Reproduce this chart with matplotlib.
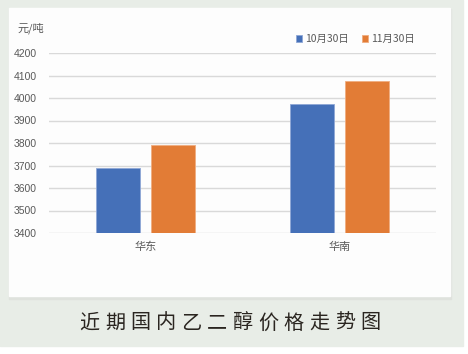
import matplotlib
matplotlib.use("Agg")
import matplotlib.pyplot as plt
from matplotlib.patches import Rectangle
import numpy as np

plt.rcParams['font.family'] = ['Noto Sans CJK SC', 'DejaVu Sans']

categories = ["华东", "华南"]
series_names = ["10月30日", "11月30日"]
oct30 = [3690, 3975]
nov30 = [3790, 4075]
yticks = [3400, 3500, 3600, 3700, 3800, 3900, 4000, 4100, 4200]
unit_label = "元/吨"
title = "近期国内乙二醇价格走势图"

W, H = 468, 354
fig = plt.figure(figsize=(W / 100, H / 100), dpi=100)
fig.patch.set_facecolor("white")

def px(x0, y0, x1, y1):
    return (x0 / W, 1 - y1 / H, (x1 - x0) / W, (y1 - y0) / H)

# grey outer background
l, b, w, h = px(0, 0, 463, 346)
fig.add_artist(Rectangle((l, b), w, h, transform=fig.transFigure, color="#e8ede7", zorder=0))
# shadow under panel
l, b, w, h = px(9, 9, 451, 299)
fig.add_artist(Rectangle((l, b), w, h, transform=fig.transFigure, color="#dfe2dd", zorder=0.5))
# white panel
l, b, w, h = px(9, 8, 450, 296)
fig.add_artist(Rectangle((l, b), w, h, transform=fig.transFigure, color="#fdfdfd", zorder=0.6))

ax = fig.add_axes(px(49, 53, 436, 233))
ax.set_facecolor("none")
ax.set_zorder(2)

x = np.arange(len(categories))
bw = 0.227
gap = 0.057
off = (bw + gap) / 2
ax.bar(x - off, np.array(oct30) - 3400, bw, bottom=3400, color="#4570b8",
       edgecolor="#8fa7d6", linewidth=0.6, label=series_names[0], zorder=3)
ax.bar(x + off, np.array(nov30) - 3400, bw, bottom=3400, color="#e27c36",
       edgecolor="#f0ad80", linewidth=0.6, label=series_names[1], zorder=3)

ax.set_xlim(-0.5, 1.5)
ax.set_ylim(3400, 4200)
ax.set_yticks(yticks)
ax.set_yticklabels([str(v) for v in yticks], fontsize=7.5, color="#595959",
                   family=["Liberation Sans", "DejaVu Sans"])
ax.set_xticks(x)
ax.set_xticklabels(categories, fontsize=8, color="#595959")
ax.tick_params(axis="both", length=0)
ax.tick_params(axis="y", pad=9)
ax.tick_params(axis="x", pad=6)
ax.grid(axis="y", color="#d9d9d9", linewidth=1.0, zorder=0)
ax.set_axisbelow(True)
for s in ax.spines.values():
    s.set_visible(False)

fig.text(18 / W, 1 - 28 / H, unit_label, fontsize=8, color="#595959", va="center", ha="left")

leg = ax.legend(loc="center left", bbox_to_anchor=((296 - 49) / 387, 1 + (53 - 39) / 180),
                ncol=2, frameon=False, fontsize=7.5, handlelength=0.6, handleheight=0.6,
                handletextpad=0.3, columnspacing=1.2, borderaxespad=0, borderpad=0)
for t in leg.get_texts():
    t.set_color("#595959")

# title with wide letter spacing
n = len(title)
first, last = 89.5, 370.5
step = (last - first) / (n - 1)
for i, ch in enumerate(title):
    fig.text((first + i * step) / W, 1 - 323 / H, ch, fontsize=14.5, color="#2a2520",
             ha="center", va="center")

fig.savefig("out.png", dpi=100)
